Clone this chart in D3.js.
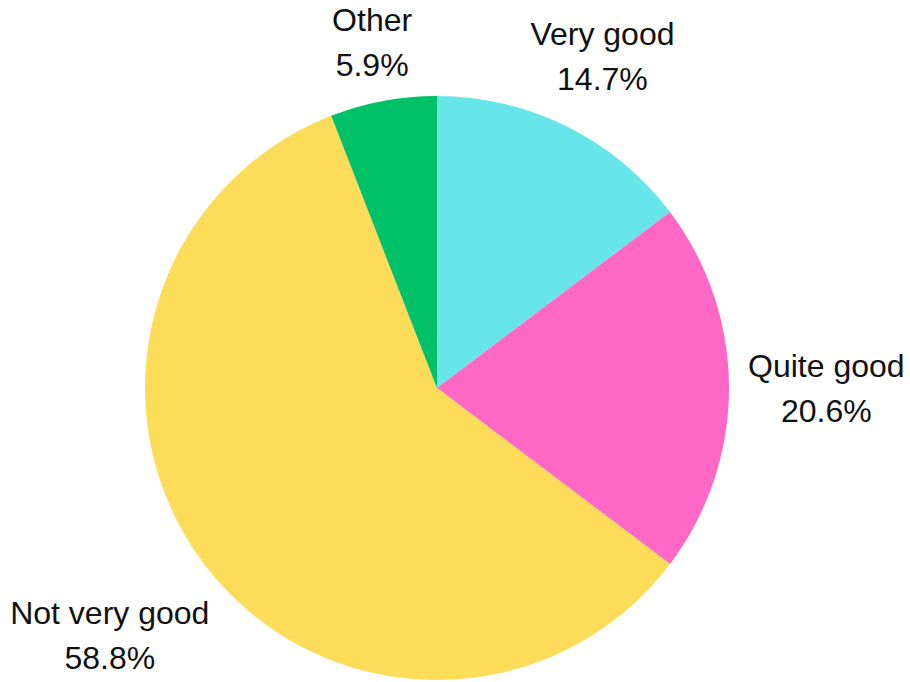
<!DOCTYPE html>
<html>
<head>
<meta charset="utf-8">
<script src="https://cdn.jsdelivr.net/npm/d3@7/dist/d3.min.js"></script>
<style>
  html, body { margin: 0; padding: 0; background: #fff; }
  svg { display: block; }
</style>
</head>
<body>
<svg id="chart" width="910" height="682"></svg>
<script>
// Survey answers, clockwise from 12 o'clock
const categories = ["Very good", "Quite good", "Not very good", "Other"];
const shares = [14.7, 20.6, 58.8, 5.9];
const sliceColors = ["#68E5E9", "#FF69C5", "#FDDC59", "#00C167"];

const width = 910, height = 682;
const cx = 437, cy = 388, radius = 292;
const labelGap = 20;          // distance between the rim and the nearest label edge
const fontSize = 32, lineGap = 45;

const svg = d3.select("#chart");
const g = svg.append("g").attr("transform", `translate(${cx},${cy})`);

const data = categories.map((c, i) => ({ name: c, value: shares[i], color: sliceColors[i] }));

const pie = d3.pie().sort(null).value(d => d.value);
const arc = d3.arc().innerRadius(0).outerRadius(radius);
const arcs = pie(data);

g.selectAll("path.slice")
  .data(arcs)
  .join("path")
  .attr("class", "slice")
  .attr("d", arc)
  .attr("fill", d => d.data.color);

// Two-line labels, pushed outward along each slice's mid angle until the
// closest corner of the text block sits labelGap beyond the rim.
const labels = g.selectAll("g.label")
  .data(arcs)
  .join("g")
  .attr("class", "label");

labels.append("text")
  .attr("class", "name")
  .attr("text-anchor", "middle")
  .attr("font-family", "'Liberation Sans', Arial, sans-serif")
  .attr("font-size", fontSize)
  .attr("fill", "#111")
  .attr("y", -11)
  .text(d => d.data.name);

labels.append("text")
  .attr("class", "pct")
  .attr("text-anchor", "middle")
  .attr("font-family", "'Liberation Sans', Arial, sans-serif")
  .attr("font-size", fontSize)
  .attr("fill", "#111")
  .attr("y", -11 + lineGap)
  .text(d => d3.format(".1f")(d.data.value) + "%");

function boxDistance(px, py, hw, hh) {
  const dx = Math.max(Math.abs(px) - hw, 0);
  const dy = Math.max(Math.abs(py) - hh, 0);
  return Math.hypot(dx, dy);
}

labels.each(function(d) {
  const sel = d3.select(this);
  const w = Math.max(
    sel.select("text.name").node().getComputedTextLength(),
    sel.select("text.pct").node().getComputedTextLength()
  ) - 2;
  const hw = w / 2, hh = 35;
  const mid = (d.startAngle + d.endAngle) / 2;
  const ux = Math.sin(mid), uy = -Math.cos(mid);
  const target = radius + labelGap;
  let lo = 0, hi = radius + 400;
  for (let k = 0; k < 60; k++) {
    const t = (lo + hi) / 2;
    if (boxDistance(ux * t, uy * t, hw, hh) < target) lo = t; else hi = t;
  }
  const t = (lo + hi) / 2;
  sel.attr("transform", `translate(${ux * t},${uy * t})`);
});
</script>
</body>
</html>
